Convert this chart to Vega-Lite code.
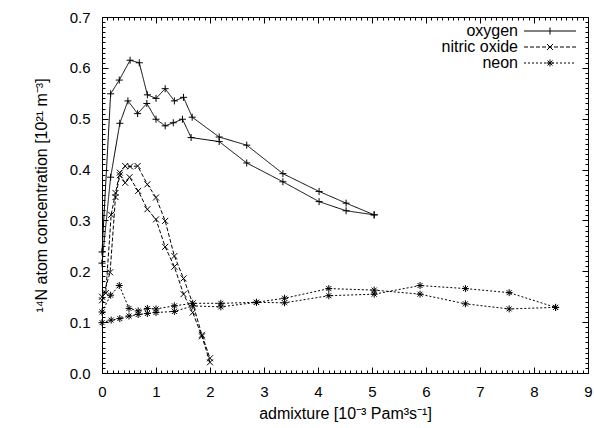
{
  "$schema": "https://vega.github.io/schema/vega-lite/v6.json",
  "width": 486,
  "height": 356,
  "autosize": {"type": "none"},
  "padding": {"left": 102, "top": 17, "right": 6, "bottom": 55},
  "background": "white",
  "config": {
    "view": {"stroke": null},
    "axis": {
      "grid": false,
      "labelFont": "Liberation Sans",
      "titleFont": "Liberation Sans",
      "labelFontSize": 15,
      "titleFontSize": 16,
      "labelColor": "#000",
      "titleColor": "#000",
      "tickColor": "#000",
      "domainColor": "#000",
      "titleFontWeight": "normal",
      "tickWidth": 1,
      "domainWidth": 1,
      "labelFlush": false,
      "labelOverlap": false
    }
  },
  "data": {
    "values": [
      {"gas": "oxygen", "run": "o1", "x": 0, "y": 0.238},
      {"gas": "oxygen", "run": "o1", "x": 0.16, "y": 0.549},
      {"gas": "oxygen", "run": "o1", "x": 0.32, "y": 0.576},
      {"gas": "oxygen", "run": "o1", "x": 0.52, "y": 0.615},
      {"gas": "oxygen", "run": "o1", "x": 0.69, "y": 0.61},
      {"gas": "oxygen", "run": "o1", "x": 0.84, "y": 0.547},
      {"gas": "oxygen", "run": "o1", "x": 1.0, "y": 0.54},
      {"gas": "oxygen", "run": "o1", "x": 1.17, "y": 0.559},
      {"gas": "oxygen", "run": "o1", "x": 1.34, "y": 0.535},
      {"gas": "oxygen", "run": "o1", "x": 1.51, "y": 0.542},
      {"gas": "oxygen", "run": "o1", "x": 1.67, "y": 0.503},
      {"gas": "oxygen", "run": "o1", "x": 2.17, "y": 0.464},
      {"gas": "oxygen", "run": "o1", "x": 2.68, "y": 0.448},
      {"gas": "oxygen", "run": "o1", "x": 3.35, "y": 0.392},
      {"gas": "oxygen", "run": "o1", "x": 4.02, "y": 0.357},
      {"gas": "oxygen", "run": "o1", "x": 4.52, "y": 0.334},
      {"gas": "oxygen", "run": "o1", "x": 5.04, "y": 0.311},
      {"gas": "oxygen", "run": "o2", "x": 0, "y": 0.216},
      {"gas": "oxygen", "run": "o2", "x": 0.16, "y": 0.385},
      {"gas": "oxygen", "run": "o2", "x": 0.33, "y": 0.491},
      {"gas": "oxygen", "run": "o2", "x": 0.48, "y": 0.535},
      {"gas": "oxygen", "run": "o2", "x": 0.66, "y": 0.51},
      {"gas": "oxygen", "run": "o2", "x": 0.83, "y": 0.53},
      {"gas": "oxygen", "run": "o2", "x": 1.0, "y": 0.499},
      {"gas": "oxygen", "run": "o2", "x": 1.17, "y": 0.486},
      {"gas": "oxygen", "run": "o2", "x": 1.32, "y": 0.492},
      {"gas": "oxygen", "run": "o2", "x": 1.49, "y": 0.499},
      {"gas": "oxygen", "run": "o2", "x": 1.65, "y": 0.463},
      {"gas": "oxygen", "run": "o2", "x": 2.17, "y": 0.455},
      {"gas": "oxygen", "run": "o2", "x": 2.68, "y": 0.413},
      {"gas": "oxygen", "run": "o2", "x": 3.35, "y": 0.376},
      {"gas": "oxygen", "run": "o2", "x": 4.02, "y": 0.337},
      {"gas": "oxygen", "run": "o2", "x": 4.52, "y": 0.319},
      {"gas": "oxygen", "run": "o2", "x": 5.04, "y": 0.311},
      {"gas": "nitric oxide", "run": "n1", "x": 0, "y": 0.15},
      {"gas": "nitric oxide", "run": "n1", "x": 0.07, "y": 0.157},
      {"gas": "nitric oxide", "run": "n1", "x": 0.17, "y": 0.311},
      {"gas": "nitric oxide", "run": "n1", "x": 0.25, "y": 0.354},
      {"gas": "nitric oxide", "run": "n1", "x": 0.33, "y": 0.394},
      {"gas": "nitric oxide", "run": "n1", "x": 0.43, "y": 0.407},
      {"gas": "nitric oxide", "run": "n1", "x": 0.52, "y": 0.406},
      {"gas": "nitric oxide", "run": "n1", "x": 0.66, "y": 0.407},
      {"gas": "nitric oxide", "run": "n1", "x": 0.84, "y": 0.371},
      {"gas": "nitric oxide", "run": "n1", "x": 1.0, "y": 0.345},
      {"gas": "nitric oxide", "run": "n1", "x": 1.17, "y": 0.299},
      {"gas": "nitric oxide", "run": "n1", "x": 1.34, "y": 0.23},
      {"gas": "nitric oxide", "run": "n1", "x": 1.51, "y": 0.186},
      {"gas": "nitric oxide", "run": "n1", "x": 1.68, "y": 0.137},
      {"gas": "nitric oxide", "run": "n1", "x": 1.85, "y": 0.075},
      {"gas": "nitric oxide", "run": "n1", "x": 2.0, "y": 0.029},
      {"gas": "nitric oxide", "run": "n2", "x": 0, "y": 0.143},
      {"gas": "nitric oxide", "run": "n2", "x": 0.15, "y": 0.198},
      {"gas": "nitric oxide", "run": "n2", "x": 0.25, "y": 0.346},
      {"gas": "nitric oxide", "run": "n2", "x": 0.33, "y": 0.389},
      {"gas": "nitric oxide", "run": "n2", "x": 0.43, "y": 0.374},
      {"gas": "nitric oxide", "run": "n2", "x": 0.51, "y": 0.385},
      {"gas": "nitric oxide", "run": "n2", "x": 0.67, "y": 0.358},
      {"gas": "nitric oxide", "run": "n2", "x": 0.84, "y": 0.322},
      {"gas": "nitric oxide", "run": "n2", "x": 1.0, "y": 0.302},
      {"gas": "nitric oxide", "run": "n2", "x": 1.17, "y": 0.248},
      {"gas": "nitric oxide", "run": "n2", "x": 1.34, "y": 0.209},
      {"gas": "nitric oxide", "run": "n2", "x": 1.51, "y": 0.155},
      {"gas": "nitric oxide", "run": "n2", "x": 1.68, "y": 0.119},
      {"gas": "nitric oxide", "run": "n2", "x": 1.85, "y": 0.072},
      {"gas": "nitric oxide", "run": "n2", "x": 2.0, "y": 0.021},
      {"gas": "neon", "run": "e1", "x": 0, "y": 0.12},
      {"gas": "neon", "run": "e1", "x": 0.16, "y": 0.153},
      {"gas": "neon", "run": "e1", "x": 0.32, "y": 0.172},
      {"gas": "neon", "run": "e1", "x": 0.5, "y": 0.127},
      {"gas": "neon", "run": "e1", "x": 0.67, "y": 0.122},
      {"gas": "neon", "run": "e1", "x": 0.84, "y": 0.127},
      {"gas": "neon", "run": "e1", "x": 1.0, "y": 0.126},
      {"gas": "neon", "run": "e1", "x": 1.34, "y": 0.132},
      {"gas": "neon", "run": "e1", "x": 1.68, "y": 0.137},
      {"gas": "neon", "run": "e1", "x": 2.2, "y": 0.137},
      {"gas": "neon", "run": "e1", "x": 2.86, "y": 0.139},
      {"gas": "neon", "run": "e1", "x": 3.38, "y": 0.147},
      {"gas": "neon", "run": "e1", "x": 4.2, "y": 0.166},
      {"gas": "neon", "run": "e1", "x": 5.04, "y": 0.163},
      {"gas": "neon", "run": "e1", "x": 5.89, "y": 0.155},
      {"gas": "neon", "run": "e1", "x": 6.73, "y": 0.136},
      {"gas": "neon", "run": "e1", "x": 7.54, "y": 0.126},
      {"gas": "neon", "run": "e1", "x": 8.4, "y": 0.129},
      {"gas": "neon", "run": "e2", "x": 0, "y": 0.099},
      {"gas": "neon", "run": "e2", "x": 0.17, "y": 0.104},
      {"gas": "neon", "run": "e2", "x": 0.33, "y": 0.107},
      {"gas": "neon", "run": "e2", "x": 0.5, "y": 0.112},
      {"gas": "neon", "run": "e2", "x": 0.67, "y": 0.115},
      {"gas": "neon", "run": "e2", "x": 0.84, "y": 0.117},
      {"gas": "neon", "run": "e2", "x": 1.0, "y": 0.119},
      {"gas": "neon", "run": "e2", "x": 1.34, "y": 0.121},
      {"gas": "neon", "run": "e2", "x": 1.68, "y": 0.132},
      {"gas": "neon", "run": "e2", "x": 2.2, "y": 0.13},
      {"gas": "neon", "run": "e2", "x": 2.86, "y": 0.139},
      {"gas": "neon", "run": "e2", "x": 3.38, "y": 0.138},
      {"gas": "neon", "run": "e2", "x": 4.2, "y": 0.152},
      {"gas": "neon", "run": "e2", "x": 5.04, "y": 0.155},
      {"gas": "neon", "run": "e2", "x": 5.89, "y": 0.172},
      {"gas": "neon", "run": "e2", "x": 6.73, "y": 0.166},
      {"gas": "neon", "run": "e2", "x": 7.54, "y": 0.158},
      {"gas": "neon", "run": "e2", "x": 8.4, "y": 0.129}
    ]
  },
  "layer": [
    {
      "mark": {"type": "line", "color": "#000", "strokeWidth": 1},
      "encoding": {
        "x": {"field": "x", "type": "quantitative", "scale": {"domain": [0, 9], "nice": false},
          "axis": {"orient": "bottom", "values": [0, 1, 2, 3, 4, 5, 6, 7, 8, 9], "format": "d", "tickSize": -6, "labelPadding": 17, "title": "admixture [10⁻³ Pam³s⁻¹]", "titlePadding": 6, "domain": true}},
        "y": {"field": "y", "type": "quantitative", "scale": {"domain": [0, 0.7], "nice": false},
          "axis": {"orient": "left", "values": [0, 0.1, 0.2, 0.3, 0.4, 0.5, 0.6, 0.7], "format": ".1f", "tickSize": -6, "labelPadding": 18, "title": "¹⁴N atom concentration [10²¹ m⁻³]", "titlePadding": 20, "domain": true}},
        "detail": {"field": "run", "type": "nominal"},
        "strokeDash": {"field": "gas", "type": "nominal", "scale": {"domain": ["oxygen", "nitric oxide", "neon"], "range": [[1, 0], [4, 2], [2, 2]]}, "legend": null}
      }
    },
    {
      "mark": {"type": "point", "filled": false, "color": "#000", "strokeWidth": 1, "size": 4, "opacity": 1},
      "encoding": {
        "x": {"field": "x", "type": "quantitative", "scale": {"domain": [0, 9], "nice": false},
          "axis": {"orient": "bottom", "values": [0,0.1,0.2,0.3,0.4,0.5,0.6,0.7,0.8,0.9,1,1.1,1.2,1.3,1.4,1.5,1.6,1.7,1.8,1.9,2,2.1,2.2,2.3,2.4,2.5,2.6,2.7,2.8,2.9,3,3.1,3.2,3.3,3.4,3.5,3.6,3.7,3.8,3.9,4,4.1,4.2,4.3,4.4,4.5,4.6,4.7,4.8,4.9,5,5.1,5.2,5.3,5.4,5.5,5.6,5.7,5.8,5.9,6,6.1,6.2,6.3,6.4,6.5,6.6,6.7,6.8,6.9,7,7.1,7.2,7.3,7.4,7.5,7.6,7.7,7.8,7.9,8,8.1,8.2,8.3,8.4,8.5,8.6,8.7,8.8,8.9,9], "tickSize": -3, "labels": false, "domain": false, "title": null}},
        "y": {"field": "y", "type": "quantitative", "scale": {"domain": [0, 0.7], "nice": false},
          "axis": {"orient": "left", "values": [0,0.01,0.02,0.03,0.04,0.05,0.06,0.07,0.08,0.09,0.1,0.11,0.12,0.13,0.14,0.15,0.16,0.17,0.18,0.19,0.2,0.21,0.22,0.23,0.24,0.25,0.26,0.27,0.28,0.29,0.3,0.31,0.32,0.33,0.34,0.35,0.36,0.37,0.38,0.39,0.4,0.41,0.42,0.43,0.44,0.45,0.46,0.47,0.48,0.49,0.5,0.51,0.52,0.53,0.54,0.55,0.56,0.57,0.58,0.59,0.6,0.61,0.62,0.63,0.64,0.65,0.66,0.67,0.68,0.69,0.7], "tickSize": -3, "labels": false, "domain": false, "title": null}},
        "shape": {"field": "gas", "type": "nominal", "scale": {"domain": ["oxygen", "nitric oxide", "neon"], "range": ["M-3.5,0L3.5,0M0,-3.5L0,3.5", "M-3,-3L3,3M-3,3L3,-3", "M-3.5,0L3.5,0M0,-3.5L0,3.5M-2.5,-2.5L2.5,2.5M-2.5,2.5L2.5,-2.5"]}, "legend": null}
      }
    },
    {
      "mark": {"type": "point", "filled": false, "color": "#000", "strokeWidth": 1, "size": 4, "opacity": 0},
      "encoding": {
        "x": {"field": "x", "type": "quantitative", "scale": {"domain": [0, 9], "nice": false},
          "axis": {"orient": "top", "values": [0, 1, 2, 3, 4, 5, 6, 7, 8, 9], "tickSize": -6, "labels": false, "domain": true, "title": null}},
        "y": {"field": "y", "type": "quantitative", "scale": {"domain": [0, 0.7], "nice": false},
          "axis": {"orient": "right", "values": [0, 0.1, 0.2, 0.3, 0.4, 0.5, 0.6, 0.7], "tickSize": -6, "labels": false, "domain": true, "title": null}},
        "shape": {"field": "gas", "type": "nominal", "scale": {"domain": ["oxygen", "nitric oxide", "neon"], "range": [
          "M92,0L144,0M118,-3.5L118,3.5",
          "M92,0L96,0M98,0L102,0M104,0L108,0M110,0L114,0M116,0L120,0M122,0L126,0M128,0L132,0M134,0L138,0M140,0L144,0M115,-3L121,3M115,3L121,-3",
          "M92,0L94,0M96,0L98,0M100,0L102,0M104,0L106,0M108,0L110,0M112,0L114,0M116,0L118,0M120,0L122,0M124,0L126,0M128,0L130,0M132,0L134,0M136,0L138,0M140,0L142,0M114.5,0L121.5,0M118,-3.5L118,3.5M115.5,-2.5L120.5,2.5M115.5,2.5L120.5,-2.5"
        ]},
          "legend": {"orient": "none", "legendX": 322, "legendY": 6, "title": null, "labelAlign": "right", "labelOffset": 78, "symbolSize": 4, "symbolStrokeColor": "#000", "symbolStrokeWidth": 1, "symbolOpacity": 1, "symbolFillColor": "transparent", "labelFontSize": 16, "labelFont": "Liberation Sans", "labelColor": "#000", "rowPadding": 0, "labelLimit": 200}}
      }
    },
    {
      "mark": {"type": "point", "filled": false, "color": "#000", "size": 4, "opacity": 0},
      "encoding": {
        "x": {"field": "x", "type": "quantitative", "scale": {"domain": [0, 9], "nice": false},
          "axis": {"orient": "top", "values": [0,0.1,0.2,0.3,0.4,0.5,0.6,0.7,0.8,0.9,1,1.1,1.2,1.3,1.4,1.5,1.6,1.7,1.8,1.9,2,2.1,2.2,2.3,2.4,2.5,2.6,2.7,2.8,2.9,3,3.1,3.2,3.3,3.4,3.5,3.6,3.7,3.8,3.9,4,4.1,4.2,4.3,4.4,4.5,4.6,4.7,4.8,4.9,5,5.1,5.2,5.3,5.4,5.5,5.6,5.7,5.8,5.9,6,6.1,6.2,6.3,6.4,6.5,6.6,6.7,6.8,6.9,7,7.1,7.2,7.3,7.4,7.5,7.6,7.7,7.8,7.9,8,8.1,8.2,8.3,8.4,8.5,8.6,8.7,8.8,8.9,9], "tickSize": -3, "labels": false, "domain": false, "title": null}},
        "y": {"field": "y", "type": "quantitative", "scale": {"domain": [0, 0.7], "nice": false},
          "axis": {"orient": "right", "values": [0,0.01,0.02,0.03,0.04,0.05,0.06,0.07,0.08,0.09,0.1,0.11,0.12,0.13,0.14,0.15,0.16,0.17,0.18,0.19,0.2,0.21,0.22,0.23,0.24,0.25,0.26,0.27,0.28,0.29,0.3,0.31,0.32,0.33,0.34,0.35,0.36,0.37,0.38,0.39,0.4,0.41,0.42,0.43,0.44,0.45,0.46,0.47,0.48,0.49,0.5,0.51,0.52,0.53,0.54,0.55,0.56,0.57,0.58,0.59,0.6,0.61,0.62,0.63,0.64,0.65,0.66,0.67,0.68,0.69,0.7], "tickSize": -3, "labels": false, "domain": false, "title": null}}
      }
    }
  ],
  "resolve": {"axis": {"x": "independent", "y": "independent"}, "scale": {"shape": "independent"}}
}
